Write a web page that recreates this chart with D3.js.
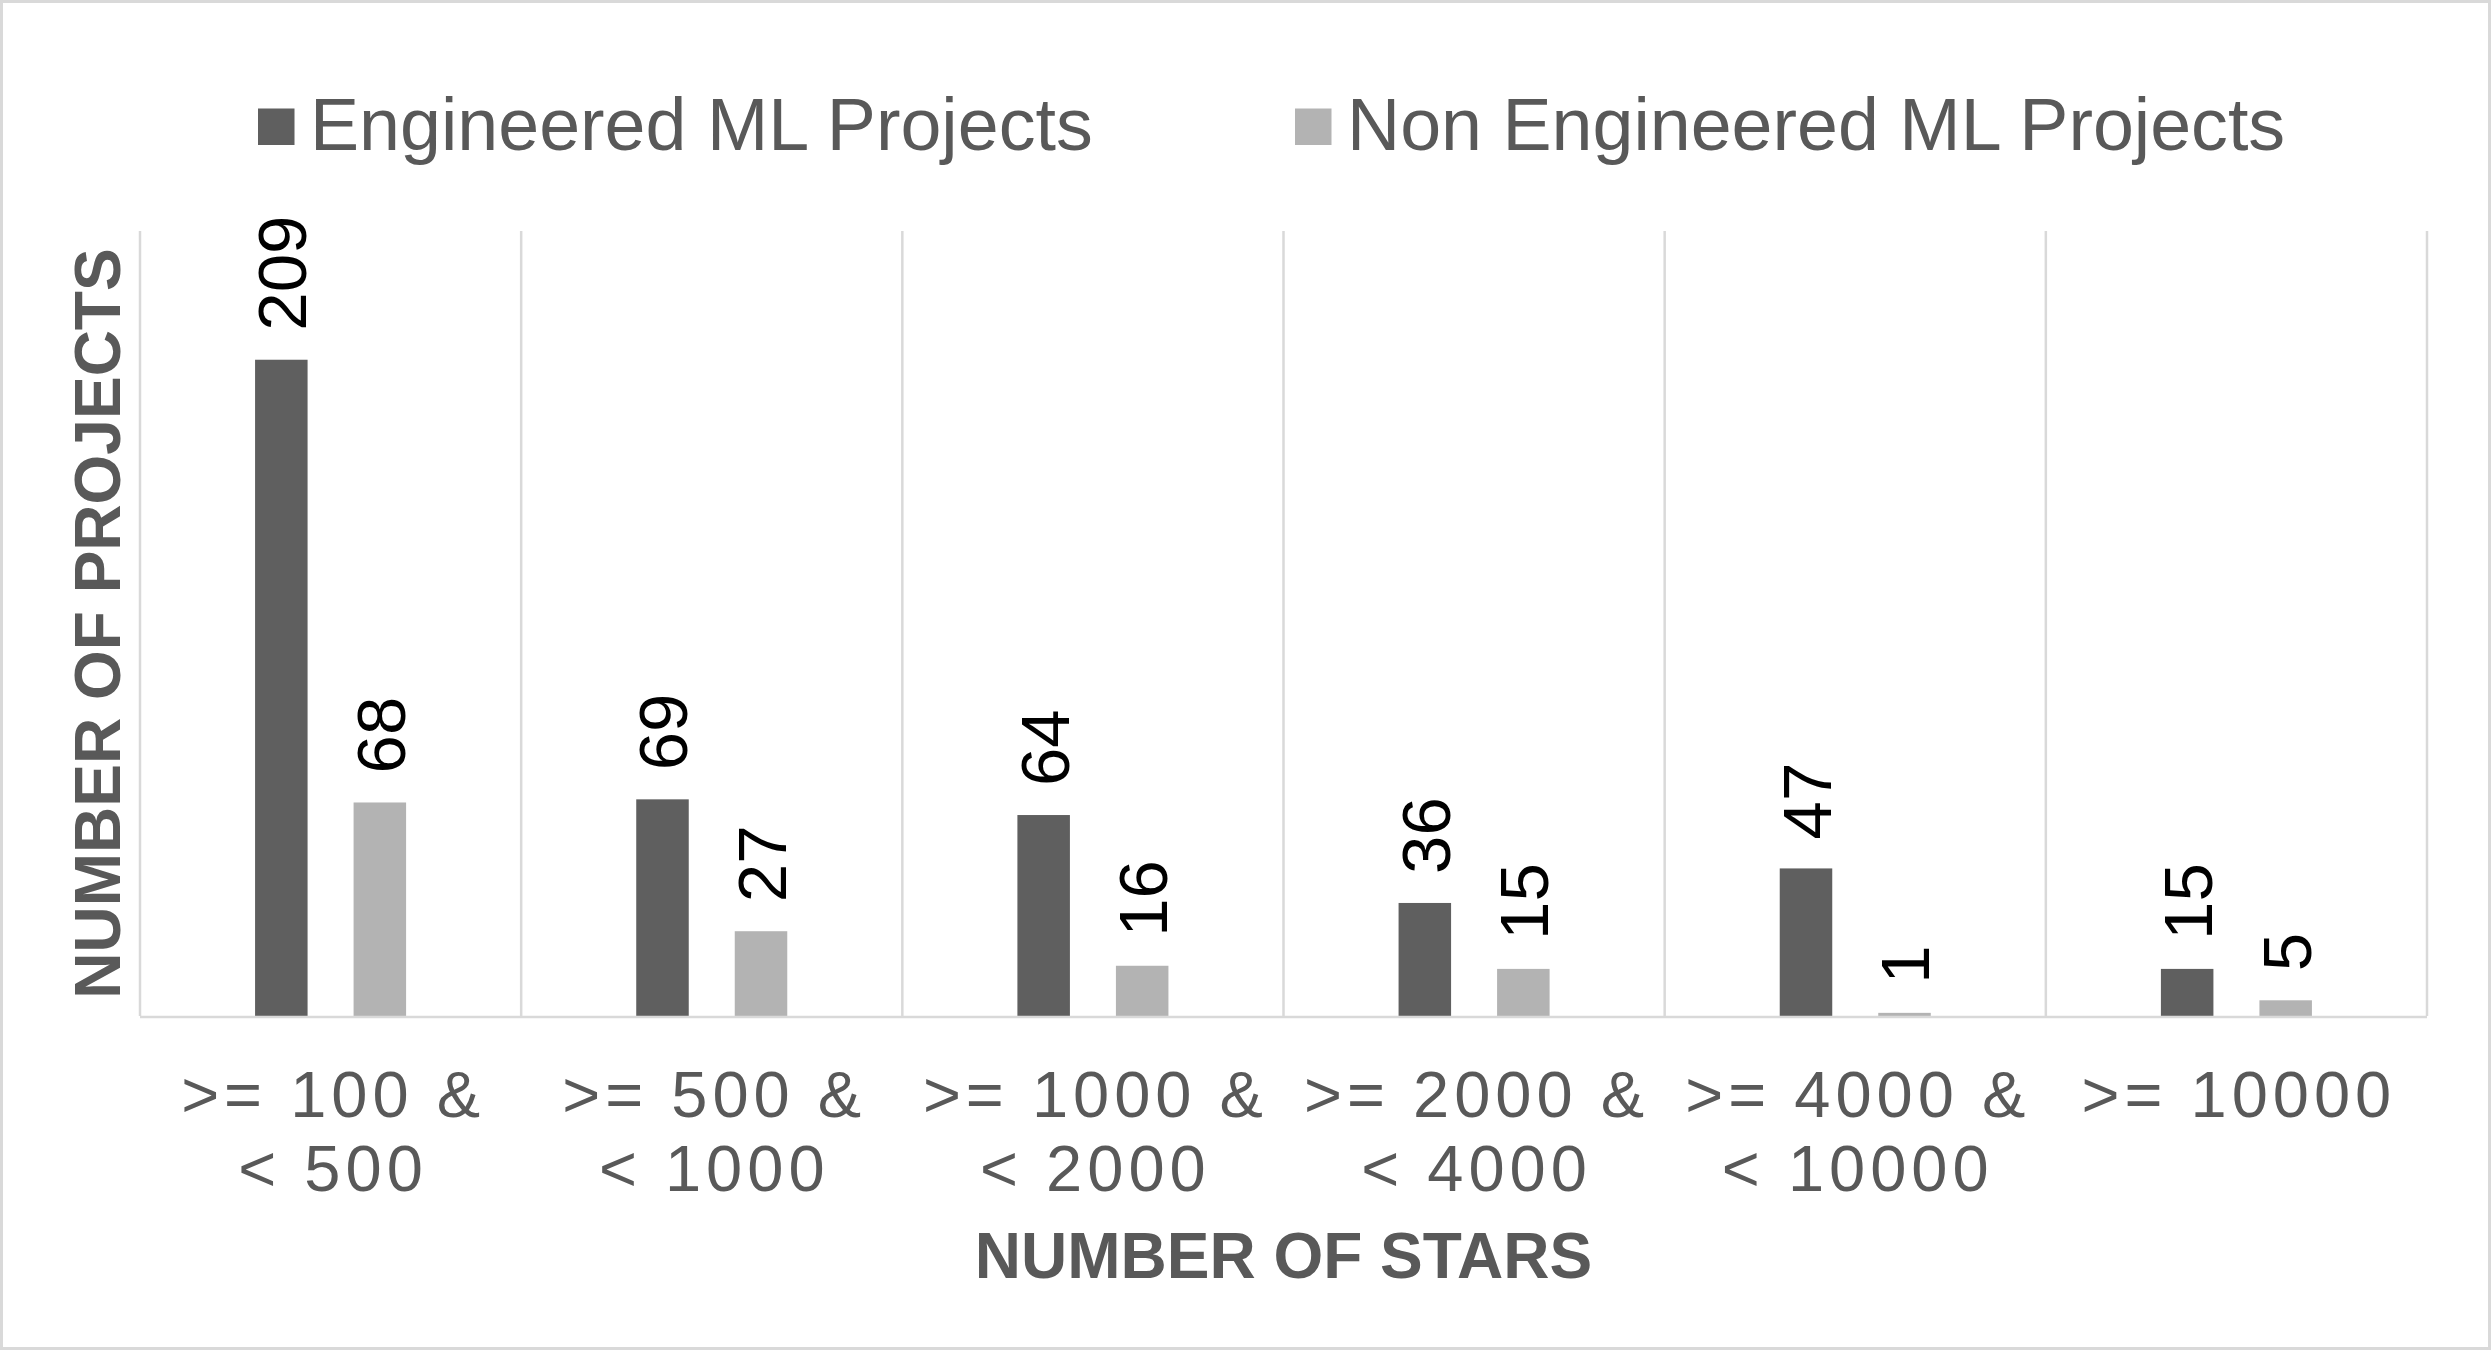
<!DOCTYPE html>
<html lang="en">
<head>
<meta charset="utf-8">
<title>Number of projects by stars</title>
<script src="https://d3js.org/d3.v7.min.js"></script>
<style>
  html, body { margin: 0; padding: 0; background: #fff; }
  svg text { font-family: "Liberation Sans", Arial, sans-serif; }
</style>
</head>
<body>
<div id="chart"></div>
<script>
// data
var categories = [
  [">= 100 &", "< 500"],
  [">= 500 &", "< 1000"],
  [">= 1000 &", "< 2000"],
  [">= 2000 &", "< 4000"],
  [">= 4000 &", "< 10000"],
  [">= 10000"]
];
var seriesNames = ["Engineered ML Projects", "Non Engineered ML Projects"];
var engineered = [209, 69, 64, 36, 47, 15];
var nonEngineered = [68, 27, 16, 15, 1, 5];
var seriesColors = ["#5f5f5f", "#b3b3b3"];

var W = 2491, H = 1350;
var plot = {left: 140, right: 2427, top: 231, bottom: 1016};
var textGrey = "#595959", gridGrey = "#d9d9d9";

var svg = d3.select("#chart").append("svg")
  .attr("width", W).attr("height", H);

// outer frame
svg.append("rect")
  .attr("x", 1.5).attr("y", 1.5)
  .attr("width", W - 3).attr("height", H - 3)
  .attr("fill", "#fff").attr("stroke", gridGrey).attr("stroke-width", 3);

var idx = d3.range(categories.length);
var x0 = d3.scaleBand().domain(idx).range([plot.left, plot.right]).padding(0);
var x1 = d3.scaleBand().domain([0, 1]).range([0, x0.bandwidth()])
  .paddingInner(0.467).paddingOuter(1.168);
var y = d3.scaleLinear().domain([0, 250]).range([plot.bottom, plot.top]);

// vertical gridlines between categories
var edges = idx.map(function(i) { return x0(i); }).concat([plot.right]);
svg.append("g").selectAll("line").data(edges).enter().append("line")
  .attr("x1", function(d) { return d; }).attr("x2", function(d) { return d; })
  .attr("y1", plot.top).attr("y2", plot.bottom)
  .attr("stroke", gridGrey).attr("stroke-width", 2.5);

// bars + labels
var series = [engineered, nonEngineered];
series.forEach(function(vals, s) {
  var g = svg.append("g");
  g.selectAll("rect").data(vals).enter().append("rect")
    .attr("x", function(d, i) { return x0(i) + x1(s); })
    .attr("y", function(d) { return y(d); })
    .attr("width", x1.bandwidth())
    .attr("height", function(d) { return y(0) - y(d); })
    .attr("fill", seriesColors[s]);

  g.selectAll("text").data(vals).enter().append("text")
    .attr("transform", function(d, i) {
      var cx = x0(i) + x1(s) + x1.bandwidth() / 2;
      return "translate(" + cx + "," + (y(d) - 29) + ") rotate(-90)";
    })
    .attr("dy", "0.36em")
    .attr("font-size", 69)
    .attr("fill", "#000")
    .text(function(d) { return d; });
});

// x axis line
svg.append("line")
  .attr("x1", plot.left).attr("x2", plot.right)
  .attr("y1", plot.bottom + 1).attr("y2", plot.bottom + 1)
  .attr("stroke", gridGrey).attr("stroke-width", 2.5);

// category labels
var tick = svg.append("g").selectAll("text").data(categories).enter().append("text")
  .attr("x", function(d, i) { return x0(i) + x0.bandwidth() / 2 + 2.5; })
  .attr("y", 1117)
  .attr("text-anchor", "middle")
  .attr("font-size", 65)
  .attr("letter-spacing", 5)
  .attr("fill", textGrey);
tick.selectAll("tspan").data(function(d) { return d; }).enter().append("tspan")
  .attr("x", function() { return d3.select(this.parentNode).attr("x"); })
  .attr("dy", function(d, j) { return j === 0 ? 0 : 74; })
  .text(function(d) { return d; });

// axis titles
svg.append("text")
  .attr("x", (plot.left + plot.right) / 2).attr("y", 1278)
  .attr("text-anchor", "middle")
  .attr("font-size", 64).attr("font-weight", "bold")
  .attr("fill", textGrey)
  .text("NUMBER OF STARS");

svg.append("text")
  .attr("transform", "translate(120," + ((plot.top + plot.bottom) / 2) + ") rotate(-90)")
  .attr("text-anchor", "middle")
  .attr("font-size", 64).attr("font-weight", "bold")
  .attr("fill", textGrey)
  .text("NUMBER OF PROJECTS");

// legend
var legendX = [258, 1295];
var legend = svg.append("g").selectAll("g").data(seriesNames).enter().append("g")
  .attr("transform", function(d, i) { return "translate(" + legendX[i] + ",0)"; });
legend.append("rect")
  .attr("x", 0).attr("y", 108.5).attr("width", 36.5).attr("height", 36.5)
  .attr("fill", function(d, i) { return seriesColors[i]; });
legend.append("text")
  .attr("x", 52).attr("y", 150)
  .attr("font-size", 73.6)
  .attr("fill", textGrey)
  .text(function(d) { return d; });
</script>
</body>
</html>
